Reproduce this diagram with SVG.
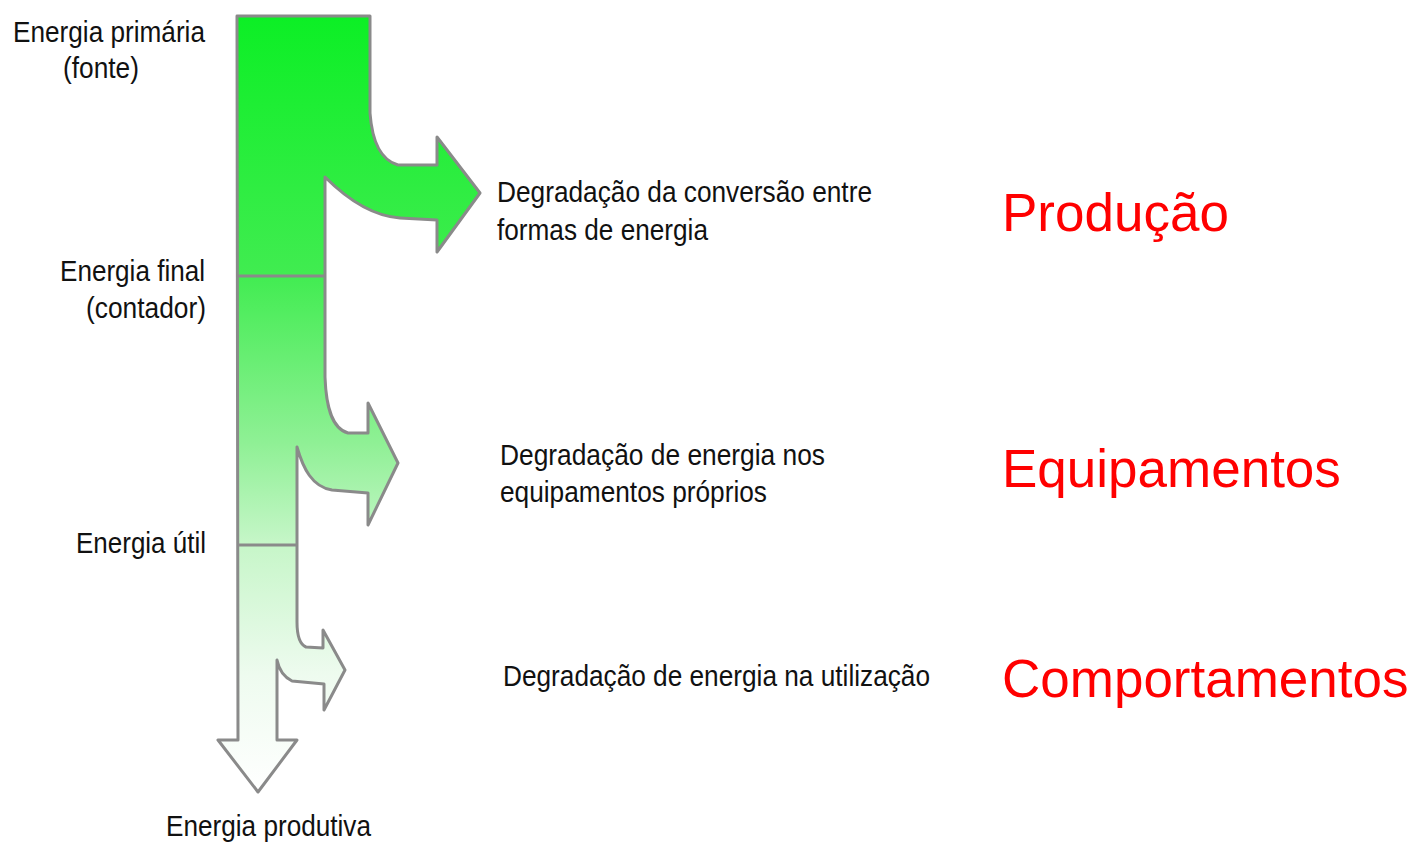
<svg xmlns="http://www.w3.org/2000/svg" width="1413" height="842" viewBox="0 0 1413 842">
  <defs>
    <linearGradient id="flowGrad" gradientUnits="userSpaceOnUse" x1="0" y1="16" x2="0" y2="792">
      <stop offset="0" stop-color="#0cef25"/>
      <stop offset="0.33" stop-color="#40ec50"/>
      <stop offset="0.55" stop-color="#8ff095"/>
      <stop offset="0.68" stop-color="#c6f6c8"/>
      <stop offset="0.85" stop-color="#eefbef"/>
      <stop offset="1" stop-color="#ffffff"/>
    </linearGradient>
  </defs>
  <style>
    .flow { fill: url(#flowGrad); stroke: #8a8a8a; stroke-width: 3; stroke-linejoin: round; }
    .div { stroke: #8a8a8a; stroke-width: 3; fill: none; }
    .lbl { font-family: "Liberation Sans", Arial, sans-serif; font-size: 29px; fill: #111; }
    .end { text-anchor: end; }
    .cat { font-family: "Liberation Sans", Arial, sans-serif; font-size: 53px; fill: #ff0000; }
  </style>
  <rect width="1413" height="842" fill="#ffffff"/>

  <g id="flow-shape">
    <path class="flow" d="M237,16 L370,16 L370,113 C372,140 380,160 398,165 L437,165 L437,137 L480,193 L437,252 L437,220 L400,218 C372,216 348,200 325,177 L325,377 C326,405 331,428 348,433 L368,433 L368,403 L398,463 L368,525 L368,493 L332,490 C312,487 303,468 297,447 L297,622 C297,633 299,644 306,647 L323,648 L323,630 L345,670 L324,710 L324,684 L292,681 C284,677 279,670 277,660 L277,740 L297,740 L258,792 L218,740 L238,740 Z"/>
    <line class="div" x1="237" y1="276" x2="325" y2="276"/>
    <line class="div" x1="237" y1="545" x2="297" y2="545"/>
  </g>

  <g id="node-primaria">
    <text class="lbl end" x="205" y="42" textLength="192" lengthAdjust="spacingAndGlyphs">Energia primária</text>
    <text class="lbl end" x="139" y="78" textLength="76" lengthAdjust="spacingAndGlyphs">(fonte)</text>
  </g>
  <g id="node-final">
    <text class="lbl end" x="205" y="281" textLength="145" lengthAdjust="spacingAndGlyphs">Energia final</text>
    <text class="lbl end" x="206" y="318" textLength="120" lengthAdjust="spacingAndGlyphs">(contador)</text>
  </g>
  <g id="node-util">
    <text class="lbl end" x="206" y="553" textLength="130" lengthAdjust="spacingAndGlyphs">Energia útil</text>
  </g>
  <g id="node-produtiva">
    <text class="lbl" x="166" y="836" textLength="205" lengthAdjust="spacingAndGlyphs">Energia produtiva</text>
  </g>

  <g id="node-deg-conversao">
    <text class="lbl" x="497" y="202" textLength="375" lengthAdjust="spacingAndGlyphs">Degradação da conversão entre</text>
    <text class="lbl" x="497" y="240" textLength="211" lengthAdjust="spacingAndGlyphs">formas de energia</text>
  </g>
  <g id="node-deg-equipamentos">
    <text class="lbl" x="500" y="465" textLength="325" lengthAdjust="spacingAndGlyphs">Degradação de energia nos</text>
    <text class="lbl" x="500" y="502" textLength="267" lengthAdjust="spacingAndGlyphs">equipamentos próprios</text>
  </g>
  <g id="node-deg-utilizacao">
    <text class="lbl" x="503" y="686" textLength="427" lengthAdjust="spacingAndGlyphs">Degradação de energia na utilização</text>
  </g>

  <g id="node-producao">
    <text class="cat" x="1002" y="231">Produção</text>
  </g>
  <g id="node-equipamentos">
    <text class="cat" x="1002" y="487">Equipamentos</text>
  </g>
  <g id="node-comportamentos">
    <text class="cat" x="1002" y="697">Comportamentos</text>
  </g>
</svg>
